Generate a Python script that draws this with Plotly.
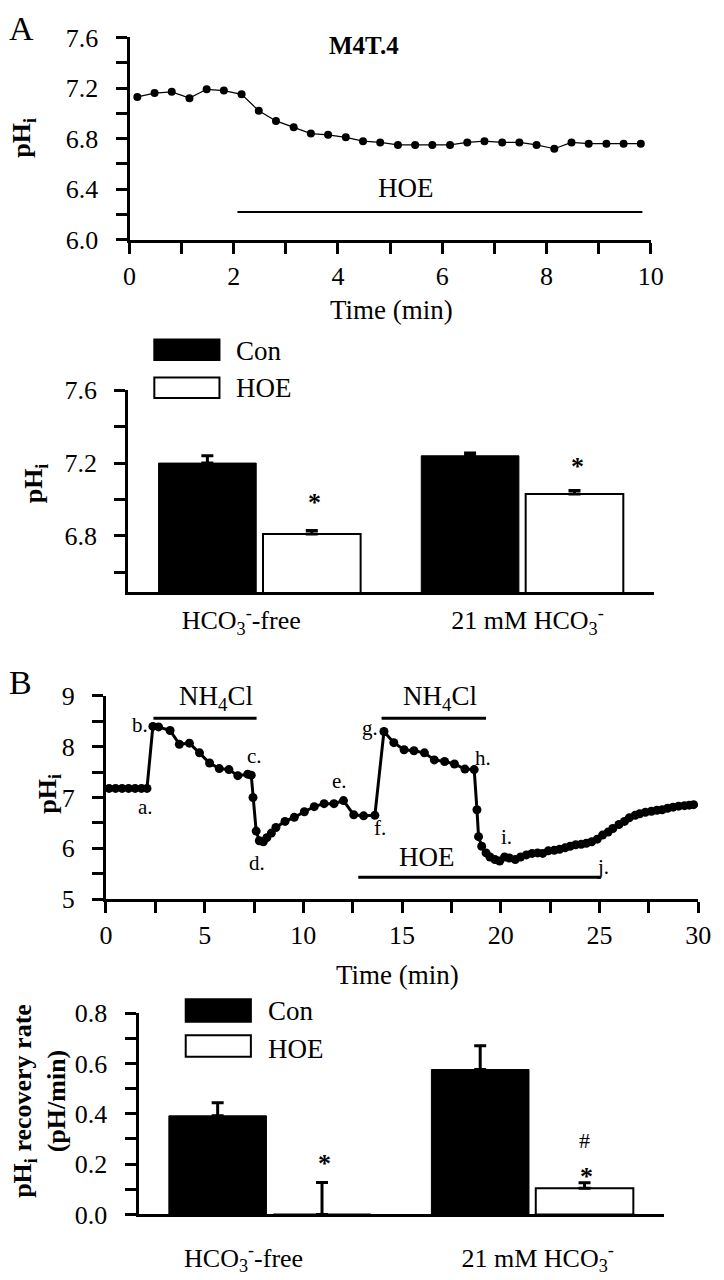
import plotly.graph_objects as go

W, H = 724, 1280
FONT = "Liberation Serif, Times New Roman, serif"

# ---------------- Panel A (top): pHi time course, M4T.4 ----------------
a_time = [0.15, 0.48, 0.81, 1.15, 1.48, 1.81, 2.15, 2.48, 2.81, 3.15,
          3.48, 3.81, 4.15, 4.48, 4.81, 5.15, 5.48, 5.81, 6.15, 6.48,
          6.81, 7.15, 7.48, 7.81, 8.15, 8.48, 8.81, 9.15, 9.48, 9.81]
a_ph = [7.13, 7.16, 7.17, 7.12, 7.19, 7.18, 7.15, 7.02, 6.94, 6.89,
        6.84, 6.83, 6.81, 6.78, 6.77, 6.75, 6.75, 6.75, 6.75, 6.77,
        6.78, 6.77, 6.77, 6.75, 6.72, 6.77, 6.76, 6.76, 6.76, 6.76]
a_hoe_period = [2.07, 9.84]
a_hoe_level = 6.22

# ---------------- Panel A (bars): steady-state pHi ----------------
groups = [0, 1]
group_labels = ["HCO<sub>3</sub><sup>-</sup>-free", "21 mM HCO<sub>3</sub><sup>-</sup>"]
a_con = [7.20, 7.24]
a_con_err = [0.04, 0.015]
a_hoe = [6.81, 7.03]
a_hoe_err = [0.02, 0.02]

# ---------------- Panel B (top): NH4Cl prepulse time course ----------------
b_time = [0.16, 0.49, 0.82, 1.15, 1.48, 1.80, 2.08,
          2.38, 2.67, 3.25, 3.72, 4.23, 4.74, 5.25, 5.74, 6.23, 6.68, 7.18, 7.36,
          7.45, 7.61, 7.77, 7.97, 8.15, 8.38, 8.61, 9.07, 9.54, 10.05, 10.55,
          11.05, 11.55, 12.03, 12.55, 13.05, 13.62,
          14.08, 14.58, 15.10, 15.60, 16.13, 16.63, 17.15, 17.65, 18.18, 18.65,
          18.79, 18.87, 19.03, 19.25, 19.45, 19.70, 19.94, 20.19, 20.43, 20.73,
          21.00, 21.29, 21.58, 21.86, 22.12, 22.40, 22.70, 22.97, 23.25, 23.51,
          23.79, 24.07, 24.33, 24.60, 24.88, 25.15, 25.43, 25.67, 25.98, 26.26,
          26.50, 26.80, 27.03, 27.32, 27.62, 27.90, 28.17, 28.44, 28.72, 29.00,
          29.30, 29.54, 29.76]
b_ph = [7.18, 7.18, 7.18, 7.18, 7.18, 7.18, 7.18,
        8.40, 8.39, 8.32, 8.05, 8.07, 7.88, 7.68, 7.57, 7.55, 7.43, 7.46, 7.44,
        7.00, 6.34, 6.15, 6.13, 6.21, 6.30, 6.41, 6.53, 6.61, 6.72, 6.82,
        6.88, 6.88, 6.94, 6.66, 6.64, 6.65,
        8.30, 8.08, 7.94, 7.92, 7.88, 7.74, 7.71, 7.66, 7.56, 7.55,
        6.76, 6.23, 6.04, 5.91, 5.83, 5.78, 5.75, 5.83, 5.81, 5.78,
        5.83, 5.87, 5.90, 5.91, 5.90, 5.95, 5.96, 5.98, 6.01, 6.04,
        6.07, 6.08, 6.10, 6.13, 6.18, 6.26, 6.32, 6.39, 6.47, 6.53,
        6.60, 6.65, 6.68, 6.71, 6.73, 6.75, 6.76, 6.79, 6.81, 6.83,
        6.84, 6.85, 6.86]
b_nh4cl_periods = [[2.41, 7.63], [13.96, 19.25]]
b_nh4cl_level = 8.56
b_hoe_period = [12.78, 25.06]
b_hoe_level = 5.43
b_point_labels = ["a.", "b.", "c.", "d.", "e.", "f.", "g.", "h.", "i.", "j."]
b_label_t = [2.01, 1.72, 7.50, 7.65, 11.85, 13.90, 13.35, 19.12, 20.31, 25.15]
b_label_ph = [6.81, 8.43, 7.82, 5.72, 7.32, 6.40, 8.37, 7.77, 6.22, 5.64]

# ---------------- Panel B (bars): pHi recovery rate ----------------
b_con = [0.392, 0.576]
b_con_err = [0.052, 0.095]
b_hoe = [0.0, 0.104]
b_hoe_err = [0.127, 0.022]


def px(x):
    return x / W


def py(y):
    return 1 - y / H


axis_common = dict(
    showline=True, linecolor="black", linewidth=3,
    ticks="outside", ticklen=11, tickwidth=3, tickcolor="black",
    showgrid=False, zeroline=False,
    tickfont=dict(family=FONT, size=26, color="black"),
)
minor_common = dict(ticks="outside", ticklen=11, tickwidth=3, tickcolor="black", showgrid=False)

fig = go.Figure()

# Panel A line
fig.add_trace(go.Scatter(x=a_time, y=a_ph, mode="lines+markers",
                         line=dict(color="black", width=1.2),
                         marker=dict(color="black", size=8),
                         xaxis="x", yaxis="y", showlegend=False))
fig.add_trace(go.Scatter(x=a_hoe_period, y=[a_hoe_level, a_hoe_level], mode="lines",
                         line=dict(color="black", width=2),
                         xaxis="x", yaxis="y", showlegend=False))

# Panel A bars
fig.add_trace(go.Bar(x=groups, y=a_con, name="Con",
                     marker=dict(color="black", line=dict(color="black", width=1)),
                     error_y=dict(type="data", array=a_con_err, arrayminus=[0, 0], symmetric=False,
                                  color="black", thickness=3, width=6),
                     xaxis="x2", yaxis="y2", showlegend=False))
fig.add_trace(go.Bar(x=groups, y=a_hoe, name="HOE",
                     marker=dict(color="white", line=dict(color="black", width=2)),
                     error_y=dict(type="data", array=a_hoe_err, arrayminus=[0, 0], symmetric=False,
                                  color="black", thickness=3, width=6),
                     xaxis="x2", yaxis="y2", showlegend=False))

# Panel B line
fig.add_trace(go.Scatter(x=b_time, y=b_ph, mode="lines+markers",
                         line=dict(color="black", width=3),
                         marker=dict(color="black", size=9),
                         xaxis="x3", yaxis="y3", showlegend=False))
for per in b_nh4cl_periods:
    fig.add_trace(go.Scatter(x=per, y=[b_nh4cl_level, b_nh4cl_level], mode="lines",
                             line=dict(color="black", width=3),
                             xaxis="x3", yaxis="y3", showlegend=False))
fig.add_trace(go.Scatter(x=b_hoe_period, y=[b_hoe_level, b_hoe_level], mode="lines",
                         line=dict(color="black", width=3),
                         xaxis="x3", yaxis="y3", showlegend=False))

# Panel B bars
fig.add_trace(go.Bar(x=groups, y=b_con, name="Con",
                     marker=dict(color="black", line=dict(color="black", width=1)),
                     error_y=dict(type="data", array=b_con_err, arrayminus=[0, 0], symmetric=False,
                                  color="black", thickness=3, width=6),
                     xaxis="x4", yaxis="y4", showlegend=False))
fig.add_trace(go.Bar(x=groups, y=b_hoe, name="HOE",
                     marker=dict(color="white", line=dict(color="black", width=2)),
                     error_y=dict(type="data", array=b_hoe_err, arrayminus=[0, 0], symmetric=False,
                                  color="black", thickness=3, width=6),
                     xaxis="x4", yaxis="y4", showlegend=False))

layout = dict(
    width=W, height=H, autosize=False,
    margin=dict(l=0, r=0, t=0, b=0),
    paper_bgcolor="white", plot_bgcolor="white",
    font=dict(family=FONT, color="black", size=26),
    barmode="group", bargap=0.205, bargroupgap=0.065,
    showlegend=False,
)

# Axes: panel A line
layout["xaxis"] = dict(axis_common, domain=[px(126), px(662)], range=[0, 10.0001], anchor="y",
                       tickvals=[0, 2, 4, 6, 8, 10], ticklabelstandoff=0,
                       minor=dict(minor_common, dtick=1, tick0=0))
layout["yaxis"] = dict(axis_common, domain=[py(231), py(24)], range=[5.9999, 7.6001], anchor="x",
                       tickvals=[6.0, 6.4, 6.8, 7.2, 7.6], tickformat=".1f", ticklabelstandoff=12,
                       minor=dict(minor_common, dtick=0.2, tick0=6.0))
# Panel A bars
layout["xaxis2"] = dict(axis_common, domain=[px(124.7), px(665)], range=[-0.5, 1.5], anchor="y2",
                        ticks="", tickvals=[-0.07, 1.02], ticktext=group_labels, ticklabelstandoff=3)
layout["yaxis2"] = dict(axis_common, domain=[py(591.7), py(385)], range=[6.49, 7.6001], anchor="x2",
                        tickvals=[6.8, 7.2, 7.6], tickformat=".1f", ticklabelstandoff=12,
                        minor=dict(minor_common, tickvals=[6.6, 7.0, 7.4]))
# Panel B line
layout["xaxis3"] = dict(axis_common, domain=[px(101.7), px(711)], range=[0, 30.001], anchor="y3",
                        tickvals=[0, 5, 10, 15, 20, 25, 30], ticklabelstandoff=0,
                        minor=dict(minor_common, dtick=2.5, tick0=0))
layout["yaxis3"] = dict(axis_common, domain=[py(905.7), py(697.7)], range=[4.999, 9.001], anchor="x3",
                        tickvals=[5, 6, 7, 8, 9], ticklabelstandoff=12,
                        minor=dict(minor_common, dtick=0.5, tick0=5))
# Panel B bars
layout["xaxis4"] = dict(axis_common, domain=[px(135.3), px(675.3)], range=[-0.5, 1.5], anchor="y4",
                        ticks="", tickvals=[-0.1, 1.02], ticktext=group_labels, ticklabelstandoff=18)
layout["yaxis4"] = dict(axis_common, domain=[py(1228.3), py(1022.3)], range=[0, 0.8001], anchor="x4",
                        tickvals=[0, 0.2, 0.4, 0.6, 0.8], tickformat=".1f", ticklabelstandoff=12,
                        minor=dict(minor_common, dtick=0.1, tick0=0))

annotations = []


def ann(text, x, y, xref="paper", yref="paper", size=26, bold=False, angle=0,
        xanchor="center", yanchor="middle", yshift=0):
    if bold:
        text = "<b>" + text + "</b>"
    annotations.append(dict(text=text, x=x, y=y, xref=xref, yref=yref, showarrow=False,
                            font=dict(family=FONT, size=size, color="black"),
                            textangle=angle, xanchor=xanchor, yanchor=yanchor, yshift=yshift))


# Panel letters
ann("A", px(15), py(15), size=34)
ann("B", px(14), py(684), size=34)

# Panel A line texts
ann("M4T.4", 4.5, 7.54, "x", "y", size=25, bold=True)
ann("HOE", 5.3, 6.41, "x", "y", size=27)
ann("pH<sub>i</sub>", px(17), py(127), size=26, bold=True, angle=-90)
ann("Time (min)", px(395), py(303), size=27)

# Panel A bar texts
ann("pH<sub>i</sub>", px(29), py(480), size=26, bold=True, angle=-90)
ann("*", 0.21, 7.00, "x2", "y2", size=26, bold=True, yshift=-3)
ann("*", 1.21, 7.20, "x2", "y2", size=26, bold=True, yshift=-3)
ann("Con", px(233), py(345), size=27, xanchor="left")
ann("HOE", px(233), py(383), size=27, xanchor="left")

# Panel B line texts
ann("pH<sub>i</sub>", px(43), py(798), size=26, bold=True, angle=-90)
ann("Time (min)", px(402), py(983), size=27)
ann("NH<sub>4</sub>Cl", 5.57, 8.95, "x3", "y3", size=27)
ann("NH<sub>4</sub>Cl", 16.94, 8.95, "x3", "y3", size=27)
ann("HOE", 16.25, 5.83, "x3", "y3", size=27)
for lab, t, v in zip(b_point_labels, b_label_t, b_label_ph):
    ann(lab, t, v, "x3", "y3", size=21)

# Panel B bar texts
ann("pH<sub>i</sub> recovery rate<br>(pH/min)", px(34), py(1112), size=26, bold=True, angle=-90)
ann("*", 0.21, 0.214, "x4", "y4", size=26, bold=True, yshift=-3)
ann("*", 1.205, 0.155, "x4", "y4", size=26, bold=True, yshift=-1)
ann("#", 1.20, 0.294, "x4", "y4", size=22)
ann("Con", px(266), py(1020), size=27, xanchor="left")
ann("HOE", px(266), py(1059), size=27, xanchor="left")

layout["annotations"] = annotations

# Legend swatches
shapes = []
for (x0, x1, y0, y1, fill) in [(151.5, 218.5, 333, 354, "black"), (151.5, 218.5, 372, 393, "white"),
                                (183.8, 250.8, 1008, 1031, "black"), (183.8, 250.8, 1045, 1067, "white")]:
    shapes.append(dict(type="rect", xref="paper", yref="paper", x0=px(x0), x1=px(x1), y0=py(y1), y1=py(y0),
                       fillcolor=fill, line=dict(color="black", width=2)))
layout["shapes"] = shapes

fig.update_layout(layout)
fig.write_html("out.html",
               config={"displayModeBar": False},
               post_script="document.body.style.margin='0';document.body.style.padding='0';"
                           "document.body.style.overflow='hidden';"
                           "document.documentElement.style.overflow='hidden';")
